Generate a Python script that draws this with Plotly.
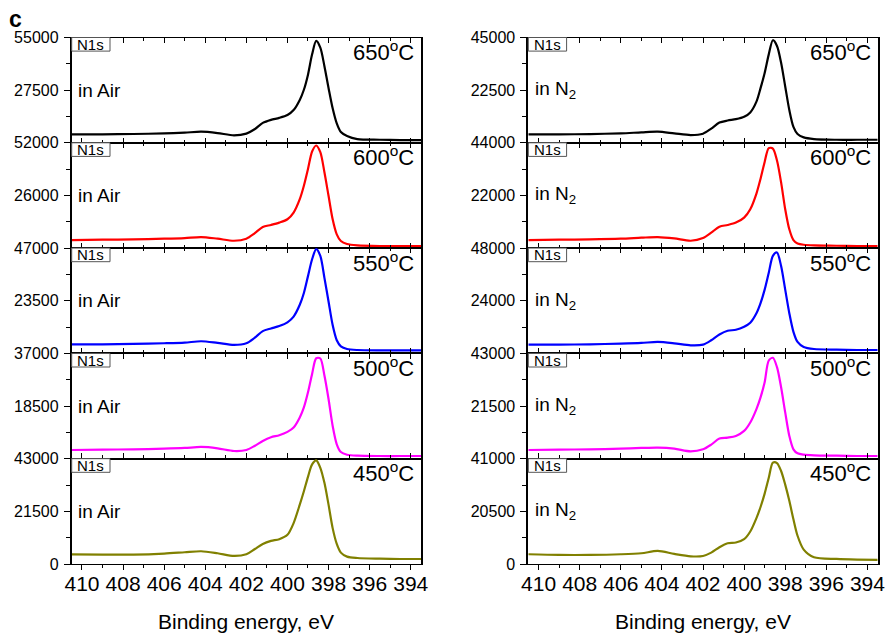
import plotly.graph_objects as go

# ---------------- data ----------------
energy = [410.5, 409.0, 407.5, 406.0, 405.0, 404.2, 403.4, 402.6, 402.0, 401.6,
          401.2, 400.8, 400.4, 400.0, 399.7, 399.4, 399.2, 399.0, 398.8, 398.6,
          398.4, 398.2, 398.0, 397.8, 397.6, 397.4, 397.1, 396.6, 395.5, 394.5, 393.5]

temps = ["650", "600", "550", "500", "450"]

air_650 = [4400, 4400, 4600, 4900, 5300, 5800, 5100, 3900, 4800, 7050, 10400, 12000, 13000, 14500,
           17100, 22400, 27700, 35600, 46200, 53200, 49700, 40000, 28600, 18000, 10100, 5600,
           3500, 1900, 1600, 1400, 1400]
air_600 = [3970, 4140, 4300, 4640, 4970, 5460, 4640, 3640, 4640, 7290, 10430, 11430, 12590, 14240,
           17550, 24180, 30800, 39080, 47690, 50670, 47360, 37430, 25830, 14240, 6790, 3480,
           1990, 1320, 990, 990, 990]
air_550 = [4070, 4070, 4220, 4520, 4820, 5420, 4670, 3770, 4520, 6930, 9940, 11140, 12200, 13860,
           16420, 21690, 26960, 34490, 42020, 46540, 43520, 33730, 23190, 12650, 5870, 3160,
           1960, 1510, 1360, 1360, 1360]
air_500 = [3060, 3180, 3300, 3530, 3770, 4120, 3650, 2710, 3060, 4480, 6240, 7540, 8250, 9420,
           10950, 14490, 18020, 23320, 29800, 35300, 35200, 29210, 20970, 11540, 5070, 2360,
           1410, 1060, 940, 940, 940]
air_450 = [3970, 3830, 3830, 4240, 4790, 5200, 4380, 3290, 3970, 6020, 8210, 9450, 10130, 11910,
           16700, 24230, 29710, 35590, 40660, 42300, 39290, 33130, 24230, 14650, 8210, 4650,
           3010, 2460, 2190, 2050, 2050]

n2_650 = [3600, 3600, 3750, 4040, 4470, 4760, 4040, 3320, 3890, 6060, 8650, 9520, 10090, 11100,
          12980, 17590, 23360, 29850, 37780, 43840, 41390, 34180, 24080, 13990, 6780, 3750,
          2310, 1590, 1300, 1300, 1300]
n2_600 = [3360, 3500, 3640, 3920, 4340, 4620, 4060, 3080, 4200, 6440, 8970, 9670, 10650, 12750,
          16250, 22800, 29000, 36000, 41800, 41600, 36570, 27460, 16250, 7850, 3360, 1960,
          1400, 1120, 980, 840, 840]
n2_550 = [4000, 4000, 4150, 4460, 4770, 5230, 4610, 3690, 4000, 6000, 8610, 10300, 10770, 12150,
          14000, 18300, 22920, 29070, 36760, 44450, 45990, 39830, 29070, 18300, 9840, 5230,
          2920, 2000, 1690, 1540, 1540]
n2_500 = [3560, 3700, 3830, 4110, 4380, 4520, 4110, 3010, 3830, 5750, 8210, 8620, 9310, 11360,
          14790, 20260, 25050, 31220, 40100, 41200, 37370, 29160, 18890, 9310, 3830, 2190,
          1640, 1370, 1230, 1100, 1100]
n2_450 = [3790, 3530, 3530, 3790, 4180, 5090, 3920, 3000, 3130, 4440, 6530, 8100, 8360, 9660,
          12670, 17890, 22200, 27400, 33600, 39440, 39300, 36200, 30900, 24600, 17400, 11000,
          5600, 2610, 1960, 1700, 1570]

air_tops = [55000, 52000, 47000, 37000, 43000]
n2_tops = [45000, 44000, 48000, 43000, 41000]

x_ticks = [410, 408, 406, 404, 402, 400, 398, 396, 394]
x_minor = [409, 407, 405, 403, 401, 399, 397, 395, 393]

# ---------------- style / layout ----------------
W, H = 889, 636
colors = ["#000000", "#ff0000", "#0000ff", "#ff00ff", "#808000"]
FONT = "Arial, Liberation Sans, sans-serif"

col_px = [(71.7, 421.0), (528.3, 877.7)]
top_px, bot_px = 37.5, 564.0
ph = (bot_px - top_px) / 5

columns = [
    (air_tops, [air_650, air_600, air_550, air_500, air_450], "in Air"),
    (n2_tops, [n2_650, n2_600, n2_550, n2_500, n2_450], "in N<sub>2</sub>"),
]

fig = go.Figure()
layout = dict(template="none", width=W, height=H, margin=dict(l=0, r=0, t=0, b=0, pad=0),
              paper_bgcolor="white", plot_bgcolor="white",
              font=dict(family=FONT, color="black"), showlegend=False)
annotations = []
shapes = []

for c, (tops, series, env) in enumerate(columns):
    x0p, x1p = col_px[c]
    pw = x1p - x0p
    for r in range(5):
        idx = r * 2 + c + 1
        xs = "" if idx == 1 else str(idx)
        fig.add_trace(go.Scatter(
            x=energy, y=series[r], mode="lines",
            xaxis="x" + xs, yaxis="y" + xs,
            line=dict(color=colors[r], width=2.2, shape="spline", smoothing=0.8),
            hoverinfo="skip"))
        y1 = 1 - (top_px + r * ph) / H
        y0 = 1 - (top_px + (r + 1) * ph) / H
        bottom = (r == 4)
        top = tops[r]
        layout["xaxis" + xs] = dict(
            domain=[x0p / W, x1p / W], anchor="y" + xs, range=[410.5, 393.5],
            automargin=False, ticklabelstandoff=-4, ticklabeloverflow="allow",
            tickmode="array", tickvals=x_ticks, ticktext=[str(v) for v in x_ticks],
            showticklabels=bottom, ticks="outside" if bottom else "inside",
            ticklen=5, tickwidth=1.2, tickcolor="black",
            minor=dict(tickmode="array", tickvals=x_minor,
                       ticks="outside" if bottom else "inside", ticklen=3,
                       tickwidth=1.0, tickcolor="black", showgrid=False),
            showline=True, linecolor="black", linewidth=1.4, mirror="ticks",
            showgrid=False, zeroline=False, tickfont=dict(size=21, family=FONT))
        yt = [top / 2, top] if not bottom else [0, top / 2, top]
        layout["yaxis" + xs] = dict(
            domain=[y0, y1], anchor="x" + xs, range=[0, top],
            automargin=False, ticklabelstandoff=2, ticklabeloverflow="allow",
            tickmode="array", tickvals=yt, ticktext=[str(int(v)) for v in yt],
            ticks="outside", ticklen=6, tickwidth=1.2, tickcolor="black",
            minor=dict(tickmode="array", tickvals=[top / 4, 3 * top / 4],
                       ticks="outside", ticklen=4, tickwidth=1.0, tickcolor="black",
                       showgrid=False),
            showline=True, linecolor="black", linewidth=1.8, mirror=True,
            showgrid=False, zeroline=False, tickfont=dict(size=16, family=FONT))

        xd = "x" + xs + " domain"
        yd = "y" + xs + " domain"
        bw, bh = 38.3 / pw, 13.6 / ph
        shapes.append(dict(type="rect", xref=xd, yref=yd, x0=0, x1=bw, y0=1 - bh, y1=1,
                           line=dict(color="#555555", width=1), fillcolor="white"))
        annotations.append(dict(xref=xd, yref=yd, x=bw / 2, y=1 - bh / 2, text="N1s",
                                showarrow=False, xanchor="center", yanchor="middle",
                                font=dict(size=15, family=FONT)))
        annotations.append(dict(xref=xd, yref=yd, x=4.5 / pw, y=0.5, text=env,
                                showarrow=False, xanchor="left", yanchor="middle",
                                font=dict(size=19, family=FONT)))
        annotations.append(dict(xref=xd, yref=yd, x=1 - 5 / pw, y=1 - 13.5 / ph,
                                text=temps[r] + "<sup>o</sup>C",
                                showarrow=False, xanchor="right", yanchor="middle",
                                font=dict(size=22, family=FONT)))

    annotations.append(dict(xref="paper", yref="paper", x=(x0p + x1p) / 2 / W,
                            y=1 - 621 / H, text="Binding energy, eV", showarrow=False,
                            xanchor="center", yanchor="middle",
                            font=dict(size=21, family=FONT)))

annotations.append(dict(xref="paper", yref="paper", x=7 / W, y=1 - 19 / H, text="<b>c</b>",
                        showarrow=False, xanchor="left", yanchor="middle",
                        font=dict(size=23, family=FONT)))

layout["annotations"] = annotations
layout["shapes"] = shapes
fig.update_layout(**layout)
fig.write_html(
    "out.html",
    config={"displayModeBar": False},
    post_script="document.body.style.margin='0';document.body.style.overflow='hidden';",
)
